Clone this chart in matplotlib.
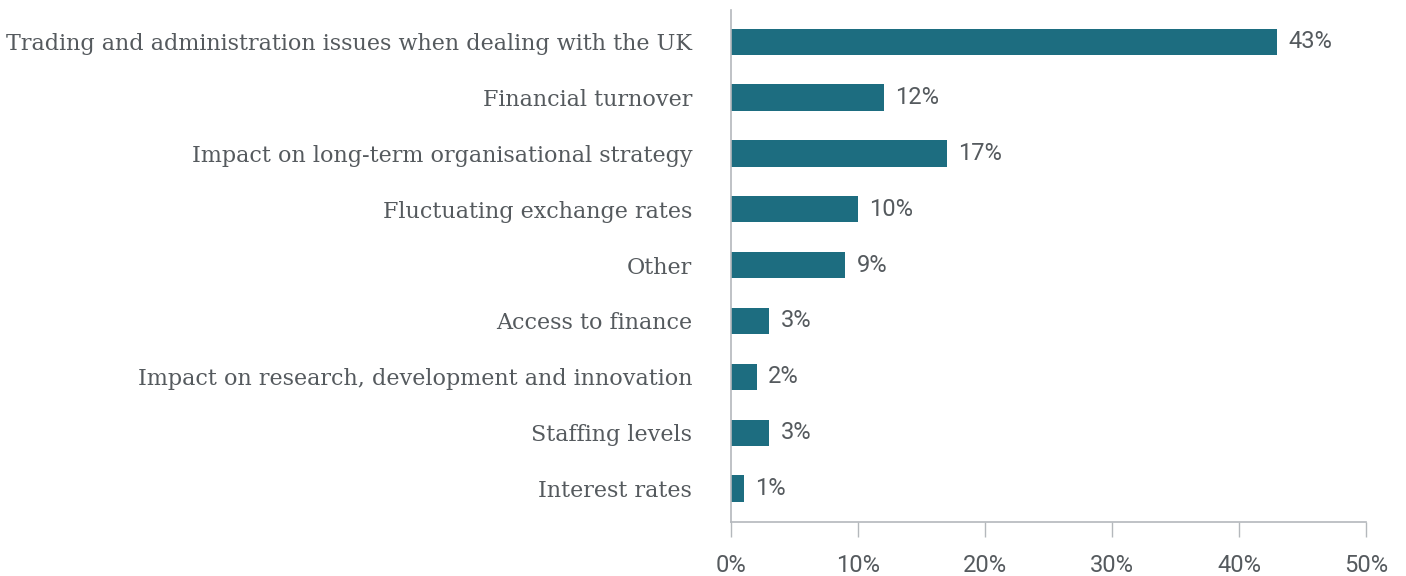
import matplotlib.pyplot as plt

categories = [
    "Trading and administration issues when dealing with the UK",
    "Financial turnover",
    "Impact on long-term organisational strategy",
    "Fluctuating exchange rates",
    "Other",
    "Access to finance",
    "Impact on research, development and innovation",
    "Staffing levels",
    "Interest rates",
]
values = [43, 12, 17, 10, 9, 3, 2, 3, 1]
x_ticks = [0, 10, 20, 30, 40, 50]

bar_color = "#1d6d80"
text_color = "#555a5e"
axis_color = "#b4b8bc"

fig = plt.figure(figsize=(14.06, 5.76), dpi=100)
ax = fig.add_axes([0.52, 0.09375, 0.4516, 0.889])

pos = list(range(len(categories)))
ax.barh(pos, values, height=0.47, color=bar_color)
for p, v in zip(pos, values):
    ax.text(v + 0.9, p, f"{v}%", va="center", ha="left", fontsize=17,
            color=text_color, family="Roboto")

ax.set_xlim(0, 50)
ax.set_ylim(len(categories) - 1 + 0.6, -0.57)
ax.set_xticks(x_ticks)
ax.set_xticklabels([f"{t}%" for t in x_ticks], fontsize=17, color=text_color,
                   family="Roboto")
ax.set_yticks(pos)
ax.set_yticklabels(categories, fontsize=16, color=text_color, family="DejaVu Serif")

ax.tick_params(axis="x", length=11, width=1, color=axis_color, pad=12)
ax.tick_params(axis="y", length=0, pad=28)

for side in ["top", "right"]:
    ax.spines[side].set_visible(False)
for side in ["left", "bottom"]:
    ax.spines[side].set_color(axis_color)
    ax.spines[side].set_linewidth(1.2)

fig.savefig("out.png", dpi=100)
